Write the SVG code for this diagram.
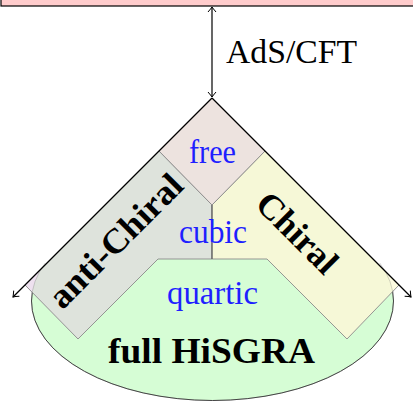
<svg xmlns="http://www.w3.org/2000/svg" width="413" height="402" viewBox="0 0 413 402">
  <style>
    .lbl { font-family: "Liberation Serif", "DejaVu Serif", serif; font-size: 34px; }
    .blue { fill: #1f1fff; }
    .bold { font-weight: bold; fill: #000; font-size: 35px; }
    .edge { fill: none; stroke: #8a8a8a; stroke-width: 0.9; }
    .axis { fill: none; stroke: #000; stroke-width: 1.2; }
  </style>
  <defs>
    <marker id="tip" markerUnits="userSpaceOnUse" viewBox="-7 -5 8 10" refX="0" refY="0" markerWidth="8" markerHeight="10" orient="auto-start-reverse">
      <path d="M-5,-4 Q-1.5,-1 0,0 Q-1.5,1 -5,4" fill="none" stroke="#000" stroke-width="1"/>
    </marker>
    <!-- wedge below the apex -->
    <clipPath id="wedge">
      <polygon points="212,98 -100,410 524,410"/>
    </clipPath>
    <!-- strip area covered by the HiSGRA region -->
    <clipPath id="inside">
      <ellipse cx="212.5" cy="301" rx="181" ry="99.5"/>
      <rect x="0" y="0" width="413" height="263"/>
    </clipPath>
    <clipPath id="lower">
      <rect x="0" y="263" width="413" height="140"/>
    </clipPath>
  </defs>

  <!-- boundary box at the top -->
  <g id="cft-box">
    <rect x="1" y="-12" width="440" height="18" fill="#ffcccc" stroke="#000" stroke-width="1.2"/>
  </g>

  <!-- full HiSGRA region -->
  <g id="full-hisgra">
    <ellipse cx="212.5" cy="301" rx="181" ry="99.5" fill="#d6fdd5" stroke="#444" stroke-width="1" clip-path="url(#wedge)"/>
  </g>

  <!-- anti-Chiral strip -->
  <g id="anti-chiral">
    <polygon points="159,151 212,205 212,259 158,259 78,339 25,285" fill="#eee1ef"/>
    <polygon points="159,151 212,205 212,259 158,259 78,339 25,285" fill="#dee3dc" clip-path="url(#inside)"/>
    <polyline class="edge" points="159,151 212,205 212,259 158,259 78,339 25,285"/>
    <text class="lbl bold" x="124" y="249" text-anchor="middle" textLength="174" lengthAdjust="spacingAndGlyphs" transform="rotate(-45 124 249)">anti-Chiral</text>
  </g>

  <!-- Chiral strip -->
  <g id="chiral">
    <polygon points="265,151 212,205 212,259 267,259 347,339 399,285" fill="#fcfbe0"/>
    <polygon points="265,151 212,205 212,259 267,259 347,339 399,285" fill="#f6f8d7" clip-path="url(#inside)"/>
    <polyline class="edge" points="265,151 212,205 212,259 267,259 347,339 399,285"/>
    <text class="lbl bold" x="289" y="241" text-anchor="middle" textLength="100" lengthAdjust="spacingAndGlyphs" transform="rotate(45 289 241)">Chiral</text>
  </g>

  <!-- free diamond -->
  <g id="free">
    <polygon points="212,98 265,151 212,205 159,151" fill="#ede3df"/>
    <polyline class="edge" points="159,151 212,205 265,151"/>
    <text class="lbl blue" x="212.5" y="162.5" text-anchor="middle" textLength="47" lengthAdjust="spacingAndGlyphs">free</text>
  </g>

  <!-- faint ellipse outline showing through the strip ends -->
  <ellipse cx="212.5" cy="301" rx="181" ry="99.5" fill="none" stroke="#444" stroke-opacity="0.22" stroke-width="1" clip-path="url(#lower)"/>

  <g id="cubic">
    <line x1="212" y1="205" x2="212" y2="259" stroke="#555" stroke-width="1"/>
    <text class="lbl blue" x="213" y="243" text-anchor="middle" textLength="68" lengthAdjust="spacingAndGlyphs">cubic</text>
  </g>

  <g id="quartic">
    <text class="lbl blue" x="212.5" y="304" text-anchor="middle" textLength="91" lengthAdjust="spacingAndGlyphs">quartic</text>
  </g>

  <g id="hisgra-label">
    <text class="lbl bold" x="211.5" y="363" text-anchor="middle" textLength="207" lengthAdjust="spacingAndGlyphs">full HiSGRA</text>
  </g>

  <!-- connectors: light-cone edges and the AdS/CFT link -->
  <g id="connectors">
    <path class="axis" d="M212,98 L13,297" marker-end="url(#tip)"/>
    <path class="axis" d="M212,98 L411,297" marker-end="url(#tip)"/>
    <path class="axis" d="M212,7 L212,97" marker-start="url(#tip)" marker-end="url(#tip)"/>
    <text class="lbl" x="226" y="63" textLength="131" lengthAdjust="spacingAndGlyphs" fill="#000">AdS/CFT</text>
  </g>
</svg>
